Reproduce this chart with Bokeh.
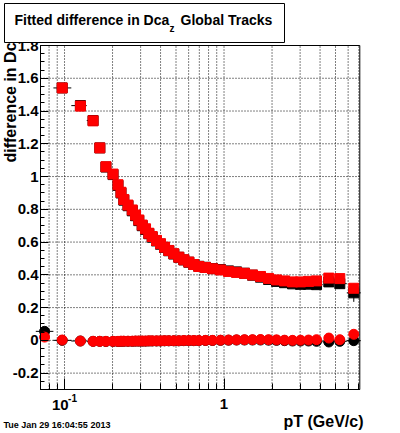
import math
import numpy as np
from bokeh.plotting import figure
from bokeh.models import FixedTicker, Label, Range1d, BoxAnnotation
from bokeh.embed import file_html
from bokeh.resources import INLINE

# ---- data ----
pt = [0.075, 0.0967, 0.1258, 0.151, 0.1665, 0.1818, 0.2014, 0.2164, 0.226, 0.2354,
      0.25, 0.2658, 0.2787, 0.2922, 0.3069, 0.322, 0.3377, 0.3546, 0.3773, 0.3997,
      0.4236, 0.4506, 0.4845, 0.5206, 0.5597, 0.6017, 0.6466, 0.695, 0.765, 0.847,
      0.951, 1.067, 1.198, 1.344, 1.509, 1.693, 1.901, 2.134, 2.395, 2.688,
      3.017, 3.387, 3.802, 4.54, 5.32, 6.51]

red_upper = [float("nan"), 1.541, 1.430, 1.340, 1.175, 1.060, 1.015, 0.950, 0.904, 0.860,
             0.826, 0.796, 0.765, 0.735, 0.704, 0.681, 0.654, 0.634, 0.610, 0.590,
             0.569, 0.549, 0.529, 0.508, 0.492, 0.478, 0.463, 0.451, 0.445, 0.437,
             0.430, 0.421, 0.415, 0.409, 0.399, 0.390, 0.378, 0.369, 0.363, 0.357,
             0.357, 0.360, 0.363, 0.380, 0.377, 0.318]

black_upper = [float("nan"), 1.541, 1.433, 1.342, 1.175, 1.058, 1.012, 0.946, 0.900, 0.856,
               0.822, 0.791, 0.761, 0.731, 0.700, 0.677, 0.651, 0.630, 0.607, 0.587,
               0.567, 0.547, 0.527, 0.507, 0.491, 0.477, 0.463, 0.452, 0.446, 0.438,
               0.432, 0.424, 0.418, 0.410, 0.398, 0.386, 0.372, 0.360, 0.352, 0.345,
               0.342, 0.343, 0.340, 0.357, 0.346, 0.290]

black_upper_err = [0.0, 0.004, 0.004, 0.004, 0.004, 0.004, 0.004, 0.004, 0.004, 0.004,
                   0.004, 0.004, 0.004, 0.004, 0.004, 0.004, 0.004, 0.004, 0.004, 0.004,
                   0.004, 0.004, 0.004, 0.004, 0.004, 0.004, 0.004, 0.004, 0.004, 0.004,
                   0.004, 0.005, 0.005, 0.005, 0.006, 0.006, 0.007, 0.008, 0.009, 0.010,
                   0.012, 0.014, 0.016, 0.022, 0.030, 0.055]

red_lower = [0.020, 0.002, -0.004, -0.006, -0.006, -0.006, -0.006, -0.006, -0.005, -0.005,
             -0.005, -0.005, -0.004, -0.004, -0.004, -0.004, -0.003, -0.003, -0.003, -0.003,
             -0.002, -0.002, -0.002, -0.002, -0.001, -0.001, -0.001, -0.001, 0.000, 0.000,
             0.001, 0.002, 0.003, 0.004, 0.004, 0.005, 0.004, 0.003, 0.001, 0.000,
             0.001, 0.002, 0.004, 0.014, 0.004, 0.037]

black_lower = [0.055, 0.000, -0.004, -0.006, -0.006, -0.007, -0.007, -0.007, -0.006, -0.006,
               -0.006, -0.006, -0.005, -0.005, -0.005, -0.005, -0.004, -0.004, -0.004, -0.004,
               -0.003, -0.003, -0.003, -0.003, -0.002, -0.002, -0.002, -0.002, -0.001, -0.001,
               0.000, 0.001, 0.002, 0.002, 0.002, 0.002, 0.001, 0.000, -0.002, -0.004,
               -0.004, -0.004, -0.006, -0.010, -0.006, -0.002]

black_lower_err = [0.004, 0.003, 0.002, 0.002, 0.002, 0.002, 0.002, 0.002, 0.002, 0.002,
                   0.002, 0.002, 0.002, 0.002, 0.002, 0.002, 0.002, 0.002, 0.002, 0.002,
                   0.002, 0.002, 0.002, 0.002, 0.002, 0.002, 0.002, 0.002, 0.002, 0.002,
                   0.002, 0.002, 0.002, 0.003, 0.003, 0.003, 0.003, 0.004, 0.004, 0.005,
                   0.005, 0.006, 0.007, 0.008, 0.010, 0.012]

x_axis_range = (0.0707, 7.1)
y_axis_range = (-0.3, 1.8)
y_ticks = [-0.2, 0.0, 0.2, 0.4, 0.6, 0.8, 1.0, 1.2, 1.4, 1.6, 1.8]
y_tick_labels = ["-0.2", "0", "0.2", "0.4", "0.6", "0.8", "1", "1.2", "1.4", "1.6", "1.8"]
y_minor_ticks = [round(-0.3 + 0.05 * i, 2) for i in range(43)]
x_major_ticks = [0.1, 1.0]
x_tick_labels = ["10", "1"]
x_tick_exponent = "-1"
x_minor_ticks = [0.08, 0.09, 0.2, 0.3, 0.4, 0.5, 0.6, 0.7, 0.8, 0.9, 2, 3, 4, 5, 6, 7]

title_main = "Fitted difference in Dca"
title_sub = "z"
title_rest = "Global Tracks"
y_title = "difference in Dca"
x_title = "pT (GeV/c)"
date_text = "Tue Jan 29 16:04:55 2013"

FONT = "Liberation Sans"

# ---- page geometry (pixels) ----
W, H = 400, 433
FR_L, FR_R, FR_T, FR_B = 40.0, 359.3, 45.0, 389.0   # the ROOT frame inside the canvas

# the bokeh plotting area covers the whole canvas; ranges extended so the
# ROOT frame lands at FR_* (axes are fixed-location, zero-size)
lx0, lx1 = math.log10(x_axis_range[0]), math.log10(x_axis_range[1])
dpx = (lx1 - lx0) / (FR_R - FR_L)
x_range = Range1d(10 ** (lx0 - FR_L * dpx), 10 ** (lx1 + (W - FR_R) * dpx))
dpy = (y_axis_range[1] - y_axis_range[0]) / (FR_B - FR_T)
y_range = Range1d(y_axis_range[0] - (H - FR_B) * dpy, y_axis_range[1] + FR_T * dpy)

# bin edges for horizontal error bars (midpoints between neighbouring centres, log space)
lp = np.log10(np.array(pt))
mids = (lp[:-1] + lp[1:]) / 2
lo = 10 ** np.concatenate([[lp[0] - (mids[0] - lp[0])], mids])
hi = 10 ** np.concatenate([mids, [lp[-1] + (lp[-1] - mids[-1])]])

p = figure(width=W, height=H, x_axis_type="log", x_range=x_range, y_range=y_range,
           output_backend="svg", toolbar_location=None,
           min_border_left=0, min_border_right=0, min_border_top=0, min_border_bottom=0)
p.title.visible = False
p.background_fill_color = "white"
p.border_fill_color = "white"
p.outline_line_color = None

# axes (fixed at the ROOT frame edges)
p.xaxis.fixed_location = y_axis_range[0]
p.xaxis.bounds = x_axis_range
p.xaxis.ticker = FixedTicker(ticks=x_major_ticks, minor_ticks=x_minor_ticks)
p.xaxis.major_label_overrides = {t: "" for t in x_major_ticks}
p.xaxis.major_tick_in = 11
p.xaxis.major_tick_out = 0
p.xaxis.minor_tick_in = 6
p.xaxis.minor_tick_out = 0
p.yaxis.fixed_location = x_axis_range[0]
p.yaxis.bounds = y_axis_range
p.yaxis.ticker = FixedTicker(ticks=y_ticks, minor_ticks=y_minor_ticks)
p.yaxis.major_label_overrides = dict(zip(y_ticks, y_tick_labels))
p.yaxis.major_tick_in = 8
p.yaxis.major_tick_out = 0
p.yaxis.minor_tick_in = 4
p.yaxis.minor_tick_out = 0
p.yaxis.major_label_standoff = 2
for ax in (p.xaxis, p.yaxis):
    ax.axis_line_color = "black"
    ax.major_tick_line_color = "black"
    ax.minor_tick_line_color = "black"
    ax.major_label_text_font = FONT
    ax.major_label_text_font_style = "bold"
    ax.major_label_text_font_size = "15px"
    ax.major_label_text_color = "black"

# dotted grid inside the frame
grid_x = sorted(x_major_ticks + x_minor_ticks)
grid_x = [t for t in grid_x if x_axis_range[0] < t < x_axis_range[1]]
grid_y = [t for t in y_ticks if y_axis_range[0] < t < y_axis_range[1]]
p.xgrid.visible = False
p.ygrid.visible = False
p.segment(x0=grid_x, y0=[y_axis_range[0]] * len(grid_x), x1=grid_x, y1=[y_axis_range[1]] * len(grid_x),
          line_color="black", line_dash="1 2", line_width=1)
p.segment(x0=[x_axis_range[0]] * len(grid_y), y0=grid_y, x1=[x_axis_range[1]] * len(grid_y), y1=grid_y,
          line_color="black", line_dash="1 2", line_width=1)

# black series (with error bars)
p.segment(x0=lo, y0=black_upper, x1=hi, y1=black_upper, line_color="black", line_width=1)
p.segment(x0=pt, y0=np.array(black_upper) - np.array(black_upper_err),
          x1=pt, y1=np.array(black_upper) + np.array(black_upper_err), line_color="black", line_width=1)
p.segment(x0=lo, y0=black_lower, x1=hi, y1=black_lower, line_color="black", line_width=1)
p.segment(x0=pt, y0=np.array(black_lower) - np.array(black_lower_err),
          x1=pt, y1=np.array(black_lower) + np.array(black_lower_err), line_color="black", line_width=1)
p.scatter(pt, black_upper, marker="square", size=10, fill_color="black", line_color="black")
p.scatter(pt, black_lower, marker="circle", size=10, fill_color="black", line_color="black")

# red series
p.scatter(pt, red_upper, marker="square", size=10, fill_color="red", line_color="red")
p.scatter(pt, red_lower, marker="circle", size=10, fill_color="red", line_color="red")

# ROOT frame (top and right edges; left/bottom come from the axes)
p.add_layout(BoxAnnotation(left=x_axis_range[0], right=x_axis_range[1],
                           bottom=y_axis_range[0], top=y_axis_range[1],
                           fill_alpha=0.0, line_color="black", line_width=1, line_alpha=1.0))


def lab(x, y, text, size, align="left", baseline="middle", angle=0.0, xu="screen", x_off=0):
    # screen coordinates are given as page pixels from the top-left corner
    yy = H - y
    return Label(x=x, y=yy, x_units=xu, y_units="screen", x_offset=x_off, text=text, angle=angle,
                 text_font=FONT, text_font_style="bold", text_font_size=size,
                 text_color="black", text_align=align, text_baseline=baseline)


# y title (partly hidden under the title box, as in the original)
p.add_layout(lab(10, 162, y_title, "16px", align="left", baseline="middle", angle=math.pi / 2))

# title box and title
p.add_layout(BoxAnnotation(left=4, right=284, top=H - 3, bottom=H - 42,
                           left_units="screen", right_units="screen",
                           top_units="screen", bottom_units="screen",
                           fill_color="white", fill_alpha=1.0,
                           line_color="black", line_width=1, line_alpha=1.0))
p.add_layout(lab(14, 19, title_main, "14px"))
p.add_layout(lab(169, 28, title_sub, "10px"))
p.add_layout(lab(180, 19, title_rest, "14px"))

# x tick labels ("10" with exponent "-1", and "1")
p.add_layout(lab(x_major_ticks[0], 404, x_tick_labels[0], "15px", align="center", xu="data", x_off=-4.3))
p.add_layout(lab(x_major_ticks[0], 397, x_tick_exponent, "10px", align="center", xu="data", x_off=8))
p.add_layout(lab(x_major_ticks[1], 403.5, x_tick_labels[1], "15px", align="center", xu="data"))

# x title and date
p.add_layout(lab(363, 421, x_title, "16px", align="right"))
p.add_layout(lab(3, 424.5, date_text, "9px"))

open("out.html", "w").write(file_html(p, INLINE))
